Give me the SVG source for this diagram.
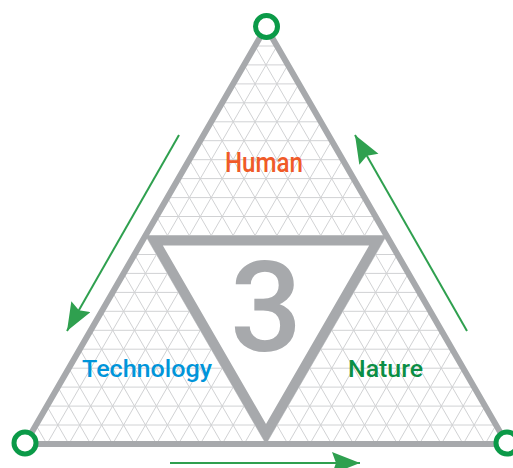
<svg xmlns="http://www.w3.org/2000/svg" width="513" height="468" viewBox="0 0 513 468">
<style>
.grid{fill:none;stroke:#d1d2d4;stroke-width:1}
.frame{fill:none;stroke:#a7a9ac;stroke-width:6;stroke-linejoin:miter}
.inner{fill:#fff;stroke:#a7a9ac;stroke-width:10;stroke-linejoin:miter;stroke-miterlimit:10}
.vertex{fill:#fff;stroke:#0b9a48;stroke-width:5}
.arrow{fill:none;stroke:#2fa04f;stroke-width:2;marker-end:url(#head)}
.lbl{font-family:Roboto,"Liberation Sans",Arial,sans-serif;font-weight:500;text-anchor:middle}
</style>
<defs>
<marker id="head" markerUnits="userSpaceOnUse" markerWidth="29" markerHeight="23" refX="28" refY="11" orient="auto">
<path d="M0,0 L28,11 L0,22 L4,11 Z" fill="#2fa04f"/>
</marker>
</defs>
<g id="grid">
<path class="grid" d="M35.9 425.0H496.0M46.9 406.1H485.1M57.9 387.1H474.1M68.8 368.2H463.2M79.8 349.2H452.2M90.7 330.3H441.3M101.7 311.3H430.3M112.6 292.4H419.4M123.6 273.4H408.4M134.5 254.5H397.5M145.5 235.5H386.5M156.5 216.5H375.5M167.4 197.6H364.6M178.4 178.6H353.6M189.3 159.7H342.7M200.3 140.7H331.7M211.2 121.8H320.8M222.2 102.8H309.8M233.1 83.9H298.9M244.1 64.9H287.9M255.0 46.0H277.0"/>
<path class="grid" d="M46.9 444L277.0 46.0M68.8 444L287.9 64.9M90.7 444L298.9 83.9M112.6 444L309.8 102.8M134.5 444L320.8 121.8M156.5 444L331.7 140.7M178.4 444L342.7 159.7M200.3 444L353.6 178.6M222.2 444L364.6 197.6M244.1 444L375.5 216.5M266.0 444L386.5 235.5M287.9 444L397.5 254.5M309.8 444L408.4 273.4M331.7 444L419.4 292.4M353.6 444L430.3 311.3M375.5 444L441.3 330.3M397.5 444L452.2 349.2M419.4 444L463.2 368.2M441.3 444L474.1 387.1M463.2 444L485.1 406.1M485.1 444L496.0 425.0"/>
<path class="grid" d="M46.9 444L35.9 425.0M68.8 444L46.9 406.1M90.7 444L57.9 387.1M112.6 444L68.8 368.2M134.5 444L79.8 349.2M156.5 444L90.7 330.3M178.4 444L101.7 311.3M200.3 444L112.6 292.4M222.2 444L123.6 273.4M244.1 444L134.5 254.5M266.0 444L145.5 235.5M287.9 444L156.5 216.5M309.8 444L167.4 197.6M331.7 444L178.4 178.6M353.6 444L189.3 159.7M375.5 444L200.3 140.7M397.5 444L211.2 121.8M419.4 444L222.2 102.8M441.3 444L233.1 83.9M463.2 444L244.1 64.9M485.1 444L255.0 46.0"/>
</g>
<g id="center">
<polygon class="inner" points="154.2,240.5 377.8,240.5 266,434"/>
<text class="lbl" x="266" y="351" font-size="127" fill="#a7a9ac">3</text>
</g>
<g id="frame">
<polygon class="frame" points="266,27 25,444 507,444"/>
</g>
<g id="connectors">
<line class="arrow" x1="179" y1="135" x2="67" y2="331"/>
<line class="arrow" x1="467" y1="331" x2="355" y2="135"/>
<line class="arrow" x1="170" y1="463" x2="360" y2="463"/>
</g>
<g id="human">
<circle class="vertex" cx="266.5" cy="26.5" r="11"/>
<text class="lbl" x="264" y="171.5" font-size="27" fill="#f05a28" textLength="78" lengthAdjust="spacingAndGlyphs">Human</text>
</g>
<g id="technology">
<circle class="vertex" cx="25" cy="443" r="11"/>
<text class="lbl" x="147" y="376.5" font-size="24" fill="#0095da" textLength="130" lengthAdjust="spacingAndGlyphs">Technology</text>
</g>
<g id="nature">
<circle class="vertex" cx="507" cy="443" r="11"/>
<text class="lbl" x="385.5" y="376.5" font-size="24" fill="#0b8e45" textLength="75" lengthAdjust="spacingAndGlyphs">Nature</text>
</g>
</svg>
